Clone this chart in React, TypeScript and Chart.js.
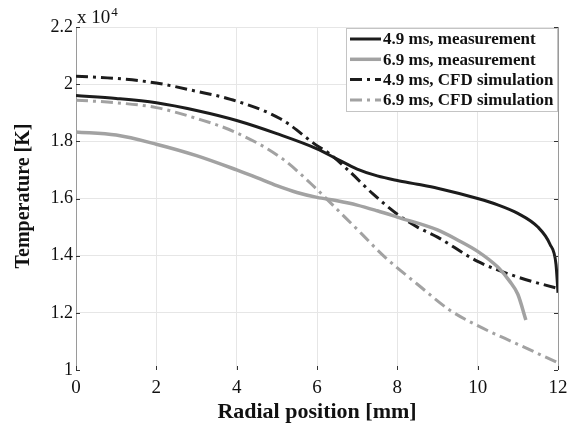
import React, { useEffect, useRef } from 'react';
import { Chart, registerables } from 'chart.js';

Chart.register(...registerables);

// Radial position [mm] and temperature [x 10^4 K]
const xMeas49 = [0, 1, 2, 3, 4, 5, 6, 6.5, 7, 7.5, 8, 8.5, 9, 10, 10.5, 11, 11.5, 11.8, 11.95, 12];
const tMeas49 = [1.96, 1.95, 1.935, 1.908, 1.873, 1.827, 1.774, 1.738, 1.703, 1.679, 1.663, 1.65, 1.636, 1.6, 1.578, 1.548, 1.5, 1.44, 1.37, 1.27];

const xMeas69 = [0, 1, 2, 3, 4, 4.5, 5, 5.5, 6, 6.5, 7, 7.5, 8, 9, 9.5, 10, 10.5, 10.8, 11, 11.2];
const tMeas69 = [1.833, 1.822, 1.79, 1.75, 1.7, 1.673, 1.645, 1.621, 1.604, 1.592, 1.577, 1.557, 1.535, 1.49, 1.455, 1.415, 1.36, 1.31, 1.265, 1.175];

const xCfd49 = [0, 1, 2, 3, 3.85, 5.1, 6, 6.3, 6.77, 7.4, 8, 8.5, 9, 10, 11, 12];
const tCfd49 = [2.028, 2.02, 2.004, 1.975, 1.947, 1.878, 1.785, 1.758, 1.7, 1.615, 1.545, 1.5, 1.465, 1.38, 1.325, 1.285];

const xCfd69 = [0, 1, 2, 3, 3.9, 5.1, 6, 6.25, 6.5, 7.1, 7.65, 8.5, 9.3, 10, 11, 12];
const tCfd69 = [1.944, 1.935, 1.918, 1.88, 1.836, 1.743, 1.632, 1.597, 1.562, 1.478, 1.4, 1.3, 1.21, 1.155, 1.09, 1.025];

const seriesLabels = [
  '4.9 ms, measurement',
  '6.9 ms, measurement',
  '4.9 ms, CFD simulation',
  '6.9 ms, CFD simulation',
];

const xTitle = 'Radial position [mm]';
const yTitle = 'Temperature [K]';
const xMin = 0, xMax = 12, xStep = 2;
const yMin = 1, yMax = 2.2, yStep = 0.2;

const DARK = '#1c1c1c';
const GRAY = '#a2a2a2';
const DASHDOT = [12, 5, 3, 5];
const FONT = '"Liberation Serif", "Times New Roman", serif';

export default function App() {
  const ref = useRef<HTMLCanvasElement>(null);

  useEffect(() => {
    const canvas = ref.current;
    if (!canvas) return;
    const toPts = (xs: number[], ys: number[]) => xs.map((x, i) => ({ x, y: ys[i] }));
    const styles = [
      { color: DARK, width: 3, dash: [] as number[] },
      { color: GRAY, width: 3.5, dash: [] as number[] },
      { color: DARK, width: 3, dash: DASHDOT },
      { color: GRAY, width: 3, dash: DASHDOT },
    ];
    const series = [
      toPts(xMeas49, tMeas49),
      toPts(xMeas69, tMeas69),
      toPts(xCfd49, tCfd49),
      toPts(xCfd69, tCfd69),
    ];

    const decorPlugin = {
      id: 'matlabDecor',
      afterDatasetsDraw(chart: any) {
        const ctx = chart.ctx as CanvasRenderingContext2D;
        const area = chart.chartArea;
        const xs = chart.scales.x;
        const ys = chart.scales.y;
        ctx.save();
        // tick marks
        ctx.strokeStyle = '#333';
        ctx.lineWidth = 1;
        ctx.setLineDash([]);
        for (let v = xMin; v <= xMax + 1e-9; v += xStep) {
          const px = Math.round(xs.getPixelForValue(v)) + 0.5;
          ctx.beginPath();
          ctx.moveTo(px, area.bottom);
          ctx.lineTo(px, area.bottom - 4);
          ctx.stroke();
        }
        for (let v = yMin; v <= yMax + 1e-9; v += yStep) {
          const py = Math.round(ys.getPixelForValue(v)) + 0.5;
          ctx.beginPath();
          ctx.moveTo(area.left, py);
          ctx.lineTo(area.left + 4, py);
          ctx.moveTo(area.right, py);
          ctx.lineTo(area.right - 4, py);
          ctx.stroke();
        }
        // legend box
        const bx = 346.5, by = 28.5, bw = 211, bh = 83;
        ctx.fillStyle = '#ffffff';
        ctx.fillRect(bx, by, bw, bh);
        ctx.strokeStyle = '#c4c4c4';
        ctx.strokeRect(bx, by, bw, bh);
        ctx.font = `bold 17px ${FONT}`;
        ctx.textBaseline = 'middle';
        ctx.textAlign = 'left';
        seriesLabels.forEach((label, i) => {
          const cy = 39 + i * 20.3;
          const st = styles[i];
          ctx.strokeStyle = st.color;
          ctx.lineWidth = st.width;
          ctx.setLineDash(st.dash);
          ctx.beginPath();
          ctx.moveTo(350, cy);
          ctx.lineTo(381, cy);
          ctx.stroke();
          ctx.setLineDash([]);
          ctx.fillStyle = '#111';
          ctx.fillText(label, 383, cy + 1);
        });
        // y axis title
        ctx.save();
        ctx.translate(24, 196);
        ctx.rotate(-Math.PI / 2);
        ctx.textAlign = 'center';
        ctx.textBaseline = 'middle';
        ctx.font = `bold 20px ${FONT}`;
        ctx.fillStyle = '#111';
        ctx.fillText(yTitle, 0, 0);
        ctx.restore();
        // exponent label
        ctx.fillStyle = '#111';
        ctx.textBaseline = 'alphabetic';
        ctx.textAlign = 'left';
        ctx.font = `19px ${FONT}`;
        ctx.fillText('x 10', 77, 23);
        const w = ctx.measureText('x 10').width;
        ctx.font = `13px ${FONT}`;
        ctx.fillText('4', 77 + w + 1, 16);
        ctx.restore();
      },
    };

    const chart = new Chart(canvas, {
      type: 'line',
      data: {
        datasets: series.map((data, i) => ({
          label: seriesLabels[i],
          data,
          borderColor: styles[i].color,
          borderWidth: styles[i].width,
          borderDash: styles[i].dash,
          pointRadius: 0,
          fill: false,
          cubicInterpolationMode: 'monotone' as const,
          borderCapStyle: 'butt' as const,
        })),
      },
      options: {
        responsive: false,
        animation: false,
        events: [],
        layout: { padding: { top: 27, right: 17, left: 0, bottom: 0 } },
        plugins: {
          legend: { display: false },
          tooltip: { enabled: false },
          title: { display: false },
        },
        scales: {
          x: {
            type: 'linear',
            min: xMin,
            max: xMax,
            afterFit: (s: any) => { s.height = 54; },
            ticks: {
              stepSize: xStep,
              padding: 7,
              color: '#111',
              font: { family: FONT, size: 19 },
              maxRotation: 0,
              callback: (v: any) => String(v),
            },
            grid: {
              drawTicks: false,
              color: (c: any) => (c.tick && c.tick.value === xMax ? '#9a9a9a' : '#e6e6e6'),
            },
            border: { display: false },
            title: {
              display: true,
              text: xTitle,
              color: '#111',
              font: { family: FONT, size: 22, weight: 'bold' },
              padding: { top: 0, bottom: -2 },
            },
          },
          y: {
            type: 'linear',
            min: yMin,
            max: yMax,
            afterFit: (s: any) => { s.width = 76; },
            ticks: {
              stepSize: yStep,
              padding: 3,
              color: '#111',
              font: { family: FONT, size: 18 },
              callback: (v: any) => String(Math.round(Number(v) * 10) / 10),
            },
            grid: {
              drawTicks: false,
              color: (c: any) => (c.tick && Math.abs(c.tick.value - yMin) < 1e-6 ? 'rgba(0,0,0,0)' : '#e6e6e6'),
            },
            border: { display: true, color: '#9a9a9a', width: 1 },
            title: { display: false },
          },
        },
      },
      plugins: [decorPlugin],
    } as any);

    return () => chart.destroy();
  }, []);

  return (
    <div style={{ position: 'fixed', left: 0, top: 0, width: 575, height: 424, background: '#fff' }}>
      <canvas ref={ref} width={575} height={424} />
    </div>
  );
}
